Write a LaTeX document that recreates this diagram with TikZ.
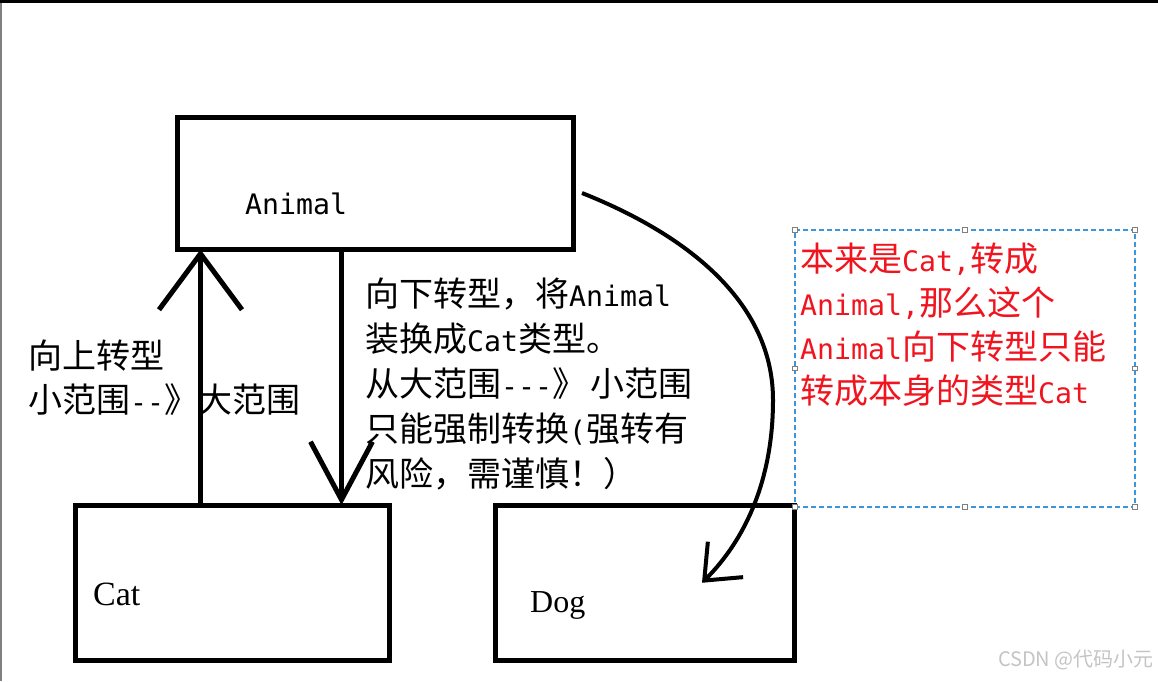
\documentclass[tikz,border=0pt]{standalone}
\usepackage{fontspec}
\setmainfont{Noto Sans CJK SC}
\newfontfamily\latinmono{DejaVu Sans Mono}[Scale=0.83]
\newfontfamily\boxserif{Liberation Serif}
\usetikzlibrary{arrows.meta,positioning}
\definecolor{SelBlue}{HTML}{3C96DC}
\definecolor{HandleGray}{HTML}{7F7F7F}
\definecolor{NoteRed}{HTML}{F0141E}
\definecolor{MarkGray}{HTML}{C4C4C4}

\begin{document}
\begin{tikzpicture}[
  x=1pt, y=-1pt,
  box/.style={rectangle, draw=black, line width=5pt, inner sep=0pt, outer sep=0pt},
  boxtext/.style={anchor=base west, inner sep=0pt},
  note/.style={anchor=north west, inner sep=0pt, align=left, font=\fontsize{34}{44}\selectfont},
  selbox/.style={rectangle, draw=SelBlue, line width=1.3pt, dash pattern=on 5pt off 3pt, minimum width=340pt, minimum height=277pt, inner sep=0pt, outer sep=0pt},
  handle/.style={rectangle, draw=HandleGray, fill=white, line width=0.8pt, minimum size=4.5pt, inner sep=0pt},
  arrow/.style={line width=5pt, draw=black},
  bend arrow/.style={line width=4pt, draw=black, -{Straight Barb[length=30pt, width=50pt]}}
]
\useasboundingbox (0,0) rectangle (1158,681);
% screenshot frame
\fill[black] (0,0) rectangle (1158,3.3);
\draw[gray, line width=2pt] (1,3) -- (1,681);

% classes
\node[box, minimum width=395.5pt, minimum height=132pt] (animal) at (375.25,183.5) {};
\node[box, minimum width=314pt, minimum height=155.5pt] (cat) at (232.5,582.75) {};
\node[box, minimum width=299pt, minimum height=155.5pt, right=106pt of cat] (dog) {};

\node[boxtext, font={\fontsize{34}{40}\selectfont\latinmono}] (animallbl) at ([shift={(67.5,30.5)}]animal.west) {Animal};
\node[boxtext, font={\fontsize{34}{40}\selectfont\boxserif}] (catlbl) at ([shift={(17.5,22.25)}]cat.west) {Cat};
\node[boxtext, font={\fontsize{32}{40}\selectfont\boxserif}] (doglbl) at ([shift={(34.5,29.25)}]dog.west) {Dog};

% casts
\draw[arrow, -{Straight Barb[length=56pt, width=83pt]}] ([xshift=125pt]cat.north west) -- ([xshift=23pt]animal.south west);
\draw[arrow, -{Straight Barb[length=58pt, width=62pt]}] ([xshift=164pt]animal.south west) -- ([xshift=266pt]cat.north west);
\draw[bend arrow] ([shift={(9,9.5)}]animal.east) .. controls (700,240) and (773,310) .. (773,400)
  .. controls (773,480) and (745,540) .. ([shift={(57,0)}]dog.center);

\node[note] (upnote) at (28,340) {向上转型\\小范围{\latinmono -{}-}》大范围};
\node[note, font=\fontsize{34}{45}\selectfont] (downnote) at (365,278) {向下转型，将{\latinmono Animal}\\装换成{\latinmono Cat}类型。\\从大范围{\latinmono -{}-{}-}》\hspace{4pt}小范围\\只能强制转换{\latinmono (}强转有\\风险，需谨慎！）};

% selected text box
\node[selbox] (sel) at (965,368.5) {};
\foreach \p in {north west,north,north east,west,east,south west,south,south east}
  \node[handle] at (sel.\p) {};
\node[note, text=NoteRed] (castnote) at ([shift={(5,13)}]sel.north west) {本来是{\latinmono Cat,}转成\\{\latinmono Animal,}那么这个\\{\latinmono Animal}向下转型只能\\转成本身的类型{\latinmono Cat}};

\node[anchor=east, inner sep=0pt, text=MarkGray, font=\fontsize{20}{24}\selectfont] (csdn) at (1154,660) {CSDN @代码小元};
\end{tikzpicture}
\end{document}
